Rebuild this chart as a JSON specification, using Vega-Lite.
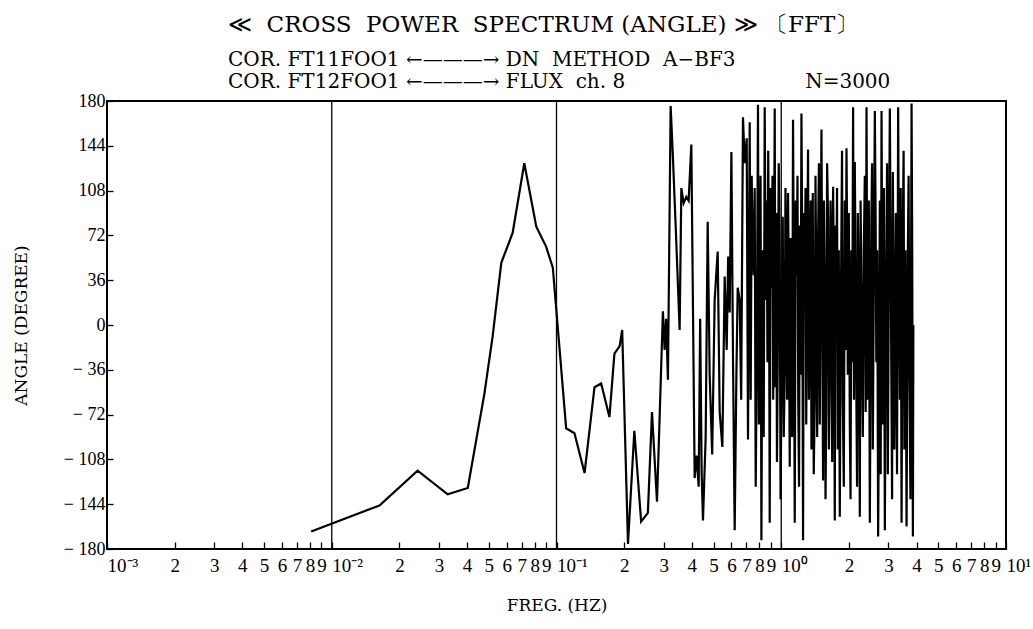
{
  "$schema": "https://vega.github.io/schema/vega-lite/v6.json",
  "width": 899,
  "height": 448,
  "autosize": {"type": "none"},
  "padding": {"left": 107, "top": 101, "right": 27, "bottom": 80},
  "background": "white",
  "config": {"view": {"stroke": "black", "strokeWidth": 2}, "font": "Liberation Serif"},
  "title": {
    "text": "\u2002≪\u00a0 CROSS\u00a0 POWER\u00a0 SPECTRUM\u00a0(ANGLE)\u00a0≫\u00a0〔FFT〕",
    "subtitle": ["COR. FT11FOO1 ←———→ DN\u00a0 METHOD\u00a0 A−BF3", "COR. FT12FOO1 ←———→ FLUX\u00a0 ch. 8\u2003\u2003\u2003\u2003\u2003\u2003\u2003\u2003\u2003N=3000"],
    "anchor": "start",
    "frame": "group",
    "dx": 121,
    "offset": 0,
    "font": "DejaVu Serif",
    "fontSize": 23,
    "fontWeight": "normal",
    "color": "black",
    "subtitleFont": "DejaVu Serif",
    "subtitleFontSize": 20,
    "subtitleColor": "black",
    "subtitlePadding": 13,
    "subtitleLineHeight": 22
  },
  "layer": [
    {
      "data": {"values": [{"g": 0.01}, {"g": 0.1}, {"g": 1}]},
      "mark": {"type": "rule", "color": "black", "strokeWidth": 1.3},
      "encoding": {"x": {"field": "g", "type": "quantitative", "scale": {"type": "log", "domain": [0.001, 10]}}}
    },
    {
      "mark": {"type": "rule", "color": "black", "strokeWidth": 1.3},
      "encoding": {"y": {"datum": 0, "type": "quantitative"}}
    },
    {
      "data": {"values": [
        {"freq": 0.0081, "angle": -166}, {"freq": 0.0163, "angle": -145}, {"freq": 0.0241, "angle": -117},
        {"freq": 0.0328, "angle": -136}, {"freq": 0.0403, "angle": -131}, {"freq": 0.0478, "angle": -55},
        {"freq": 0.052, "angle": -9}, {"freq": 0.0568, "angle": 50}, {"freq": 0.0638, "angle": 74},
        {"freq": 0.0719, "angle": 130}, {"freq": 0.0813, "angle": 79}, {"freq": 0.0899, "angle": 63},
        {"freq": 0.0963, "angle": 46}, {"freq": 0.1104, "angle": -83}, {"freq": 0.1202, "angle": -87},
        {"freq": 0.1333, "angle": -119}, {"freq": 0.1476, "angle": -50}, {"freq": 0.158, "angle": -47},
        {"freq": 0.172, "angle": -74}, {"freq": 0.181, "angle": -23}, {"freq": 0.191, "angle": -17},
        {"freq": 0.196, "angle": -4}, {"freq": 0.208, "angle": -176}, {"freq": 0.222, "angle": -85},
        {"freq": 0.238, "angle": -158}, {"freq": 0.255, "angle": -151}, {"freq": 0.266, "angle": -70},
        {"freq": 0.28, "angle": -142}, {"freq": 0.2975, "angle": 11}, {"freq": 0.3028, "angle": -20},
        {"freq": 0.3075, "angle": 5}, {"freq": 0.3132, "angle": -44}, {"freq": 0.322, "angle": 176},
        {"freq": 0.3287, "angle": 140}, {"freq": 0.339, "angle": 80}, {"freq": 0.3531, "angle": -4},
        {"freq": 0.3593, "angle": 110}, {"freq": 0.3679, "angle": 98}, {"freq": 0.3782, "angle": 103},
        {"freq": 0.3872, "angle": 100}, {"freq": 0.3981, "angle": 145}, {"freq": 0.4118, "angle": -123},
        {"freq": 0.4203, "angle": -105}, {"freq": 0.4291, "angle": -130}, {"freq": 0.4357, "angle": 5},
        {"freq": 0.4425, "angle": -120}, {"freq": 0.4485, "angle": -157}, {"freq": 0.461, "angle": -90},
        {"freq": 0.4706, "angle": 83}, {"freq": 0.4803, "angle": -40}, {"freq": 0.4928, "angle": -104},
        {"freq": 0.5055, "angle": 20}, {"freq": 0.5214, "angle": 59}, {"freq": 0.5321, "angle": -70},
        {"freq": 0.547, "angle": -98}, {"freq": 0.5601, "angle": 39}, {"freq": 0.5717, "angle": -20},
        {"freq": 0.5806, "angle": 55}, {"freq": 0.5896, "angle": 10}, {"freq": 0.6, "angle": 139},
        {"freq": 0.6099, "angle": -25}, {"freq": 0.6206, "angle": -165}, {"freq": 0.6315, "angle": -41},
        {"freq": 0.6401, "angle": 30}, {"freq": 0.6532, "angle": 20}, {"freq": 0.6633, "angle": -60},
        {"freq": 0.6757, "angle": 167}, {"freq": 0.6876, "angle": 130}, {"freq": 0.7019, "angle": 150},
        {"freq": 0.7113, "angle": -92}, {"freq": 0.7238, "angle": 163}, {"freq": 0.7313, "angle": -60},
        {"freq": 0.7388, "angle": 120}, {"freq": 0.7464, "angle": 60}, {"freq": 0.754, "angle": 40},
        {"freq": 0.7618, "angle": 110}, {"freq": 0.7697, "angle": -130}, {"freq": 0.7788, "angle": -20},
        {"freq": 0.788, "angle": 177}, {"freq": 0.795, "angle": -80}, {"freq": 0.8019, "angle": 42},
        {"freq": 0.809, "angle": 120}, {"freq": 0.816, "angle": -173}, {"freq": 0.8215, "angle": -40},
        {"freq": 0.827, "angle": 60}, {"freq": 0.8355, "angle": -90}, {"freq": 0.8441, "angle": 175},
        {"freq": 0.853, "angle": 20}, {"freq": 0.8616, "angle": 100}, {"freq": 0.868, "angle": -30},
        {"freq": 0.8749, "angle": 140}, {"freq": 0.8817, "angle": 60}, {"freq": 0.8885, "angle": -159},
        {"freq": 0.8977, "angle": 110}, {"freq": 0.9069, "angle": 30}, {"freq": 0.914, "angle": 120},
        {"freq": 0.921, "angle": -60}, {"freq": 0.928, "angle": 40}, {"freq": 0.9353, "angle": 174},
        {"freq": 0.9425, "angle": -50}, {"freq": 0.9498, "angle": 90}, {"freq": 0.957, "angle": -110},
        {"freq": 0.9645, "angle": -30}, {"freq": 0.9745, "angle": 130}, {"freq": 0.9845, "angle": 60},
        {"freq": 0.993, "angle": -140}, {"freq": 1.0018, "angle": -58}, {"freq": 1.0086, "angle": 40},
        {"freq": 1.0154, "angle": 87}, {"freq": 1.026, "angle": -90}, {"freq": 1.0363, "angle": -40},
        {"freq": 1.044, "angle": 110}, {"freq": 1.0524, "angle": 60}, {"freq": 1.062, "angle": -60},
        {"freq": 1.0719, "angle": 106}, {"freq": 1.081, "angle": 30}, {"freq": 1.0908, "angle": -114},
        {"freq": 1.099, "angle": 70}, {"freq": 1.1077, "angle": 20}, {"freq": 1.118, "angle": -90},
        {"freq": 1.1283, "angle": 165}, {"freq": 1.138, "angle": 30}, {"freq": 1.1482, "angle": -159},
        {"freq": 1.16, "angle": 100}, {"freq": 1.172, "angle": 40}, {"freq": 1.181, "angle": 120},
        {"freq": 1.1902, "angle": -60}, {"freq": 1.2, "angle": -130}, {"freq": 1.2086, "angle": 80},
        {"freq": 1.219, "angle": -40}, {"freq": 1.2299, "angle": 170}, {"freq": 1.24, "angle": 60},
        {"freq": 1.2502, "angle": -173}, {"freq": 1.261, "angle": 90}, {"freq": 1.2722, "angle": 20},
        {"freq": 1.282, "angle": 110}, {"freq": 1.2919, "angle": -80}, {"freq": 1.304, "angle": 50},
        {"freq": 1.3159, "angle": 141}, {"freq": 1.327, "angle": -60}, {"freq": 1.3391, "angle": 10},
        {"freq": 1.351, "angle": 100}, {"freq": 1.3627, "angle": -100}, {"freq": 1.372, "angle": 40},
        {"freq": 1.381, "angle": 106}, {"freq": 1.395, "angle": -120}, {"freq": 1.4096, "angle": -60},
        {"freq": 1.42, "angle": 120}, {"freq": 1.4314, "angle": 40}, {"freq": 1.445, "angle": -90},
        {"freq": 1.458, "angle": 68}, {"freq": 1.471, "angle": 130}, {"freq": 1.4837, "angle": -80},
        {"freq": 1.497, "angle": 40}, {"freq": 1.5098, "angle": 157}, {"freq": 1.522, "angle": 20},
        {"freq": 1.5348, "angle": -125}, {"freq": 1.548, "angle": 100}, {"freq": 1.5618, "angle": 30},
        {"freq": 1.574, "angle": -140}, {"freq": 1.586, "angle": -70}, {"freq": 1.6, "angle": 130},
        {"freq": 1.6156, "angle": 86}, {"freq": 1.63, "angle": -100}, {"freq": 1.644, "angle": -40},
        {"freq": 1.657, "angle": 100}, {"freq": 1.6695, "angle": 60}, {"freq": 1.685, "angle": -110},
        {"freq": 1.7006, "angle": 111}, {"freq": 1.716, "angle": 40}, {"freq": 1.7305, "angle": -157},
        {"freq": 1.744, "angle": 80}, {"freq": 1.7573, "angle": 20}, {"freq": 1.771, "angle": 110},
        {"freq": 1.7846, "angle": -100}, {"freq": 1.803, "angle": 60}, {"freq": 1.8216, "angle": -154},
        {"freq": 1.836, "angle": -30}, {"freq": 1.8498, "angle": 60}, {"freq": 1.864, "angle": 140},
        {"freq": 1.8786, "angle": -60}, {"freq": 1.898, "angle": -130}, {"freq": 1.9175, "angle": 100},
        {"freq": 1.934, "angle": -20}, {"freq": 1.9512, "angle": 142}, {"freq": 1.964, "angle": 70},
        {"freq": 1.9774, "angle": -40}, {"freq": 1.998, "angle": 90}, {"freq": 2.0184, "angle": -79},
        {"freq": 2.034, "angle": -140}, {"freq": 2.0497, "angle": 60}, {"freq": 2.069, "angle": -30},
        {"freq": 2.0879, "angle": 175}, {"freq": 2.106, "angle": -60}, {"freq": 2.1246, "angle": 131},
        {"freq": 2.141, "angle": 40}, {"freq": 2.1575, "angle": -50}, {"freq": 2.174, "angle": -130},
        {"freq": 2.191, "angle": 90}, {"freq": 2.214, "angle": 20}, {"freq": 2.2364, "angle": -154},
        {"freq": 2.254, "angle": 100}, {"freq": 2.271, "angle": 40}, {"freq": 2.289, "angle": -40},
        {"freq": 2.3063, "angle": -90}, {"freq": 2.33, "angle": 60}, {"freq": 2.3541, "angle": 120},
        {"freq": 2.375, "angle": -70}, {"freq": 2.3955, "angle": 175}, {"freq": 2.412, "angle": 30},
        {"freq": 2.4277, "angle": -60}, {"freq": 2.453, "angle": 100}, {"freq": 2.478, "angle": -159},
        {"freq": 2.497, "angle": -40}, {"freq": 2.5164, "angle": 80}, {"freq": 2.536, "angle": 130},
        {"freq": 2.5554, "angle": -100}, {"freq": 2.582, "angle": 40}, {"freq": 2.6084, "angle": 172},
        {"freq": 2.629, "angle": 90}, {"freq": 2.6488, "angle": -30}, {"freq": 2.673, "angle": 60},
        {"freq": 2.6981, "angle": -170}, {"freq": 2.722, "angle": -60}, {"freq": 2.7456, "angle": 100},
        {"freq": 2.77, "angle": -120}, {"freq": 2.7939, "angle": 172}, {"freq": 2.813, "angle": 40},
        {"freq": 2.8314, "angle": -80}, {"freq": 2.861, "angle": 110}, {"freq": 2.8901, "angle": -165},
        {"freq": 2.913, "angle": -40}, {"freq": 2.9349, "angle": 60}, {"freq": 2.958, "angle": 130},
        {"freq": 2.9804, "angle": -120}, {"freq": 3.011, "angle": 40}, {"freq": 3.0422, "angle": 174},
        {"freq": 3.066, "angle": 70}, {"freq": 3.0893, "angle": -40}, {"freq": 3.113, "angle": -140},
        {"freq": 3.1372, "angle": 123}, {"freq": 3.162, "angle": 30}, {"freq": 3.1858, "angle": -100},
        {"freq": 3.21, "angle": -20}, {"freq": 3.2352, "angle": 90}, {"freq": 3.274, "angle": -120},
        {"freq": 3.3124, "angle": 175}, {"freq": 3.342, "angle": 40}, {"freq": 3.3707, "angle": -60},
        {"freq": 3.4, "angle": 110}, {"freq": 3.43, "angle": -159}, {"freq": 3.453, "angle": -20},
        {"freq": 3.476, "angle": 80}, {"freq": 3.503, "angle": 140}, {"freq": 3.53, "angle": -100},
        {"freq": 3.57, "angle": 60}, {"freq": 3.6105, "angle": -162}, {"freq": 3.635, "angle": -30},
        {"freq": 3.659, "angle": 60}, {"freq": 3.687, "angle": 120}, {"freq": 3.7157, "angle": -40},
        {"freq": 3.758, "angle": -140}, {"freq": 3.8005, "angle": 178}, {"freq": 3.826, "angle": 60},
        {"freq": 3.852, "angle": -170}, {"freq": 3.8713, "angle": 0}
      ]},
      "mark": {"type": "line", "color": "black", "strokeWidth": 2.2, "strokeJoin": "miter", "clip": true},
      "encoding": {
        "x": {
          "field": "freq",
          "type": "quantitative",
          "scale": {"type": "log", "domain": [0.001, 10], "nice": false},
          "axis": {
            "title": "FREG. (HZ)",
            "values": [0.001, 0.002, 0.003, 0.004, 0.005, 0.006, 0.007, 0.008, 0.009, 0.01, 0.02, 0.03, 0.04, 0.05, 0.06, 0.07, 0.08, 0.09, 0.1, 0.2, 0.3, 0.4, 0.5, 0.6, 0.7, 0.8, 0.9, 1, 2, 3, 4, 5, 6, 7, 8, 9, 10],
            "labelExpr": "datum.value==0.001?'10⁻³':datum.value==0.01?'10⁻²':datum.value==0.1?'10⁻¹':datum.value==1?'10⁰':datum.value==10?'10¹':format(datum.value/pow(10,floor(log(datum.value)/LN10+1e-9)),'.0f')",
            "labelAlign": {"condition": {"test": "datum.value==0.001||datum.value==0.01||datum.value==0.1||datum.value==1||datum.value==10", "value": "left"}, "value": "center"},
            "tickSize": -7,
            "tickColor": "black",
            "tickWidth": 1.3,
            "domain": false,
            "grid": false,
            "labelFont": "Liberation Serif",
            "labelFontSize": 19,
            "labelColor": "black",
            "labelPadding": 14,
            "labelFlush": false,
            "labelOverlap": false,
            "titleFont": "DejaVu Serif",
            "titleFontSize": 17,
            "titleFontWeight": "normal",
            "titleColor": "black",
            "titlePadding": 22
          }
        },
        "y": {
          "field": "angle",
          "type": "quantitative",
          "scale": {"domain": [-180, 180], "nice": false},
          "axis": {
            "title": "ANGLE (DEGREE)",
            "values": [-180, -144, -108, -72, -36, 0, 36, 72, 108, 144, 180],
            "labelExpr": "datum.value < 0 ? '− ' + (-datum.value) : '' + datum.value",
            "tickSize": -6,
            "tickColor": "black",
            "tickWidth": 1.3,
            "domain": false,
            "grid": false,
            "labelFont": "Liberation Serif",
            "labelFontSize": 18,
            "labelColor": "black",
            "labelPadding": 8,
            "labelFlush": false,
            "labelOverlap": false,
            "titleFont": "DejaVu Serif",
            "titleFontSize": 17,
            "titleFontWeight": "normal",
            "titleColor": "black",
            "titlePadding": 33
          }
        }
      }
    }
  ]
}
